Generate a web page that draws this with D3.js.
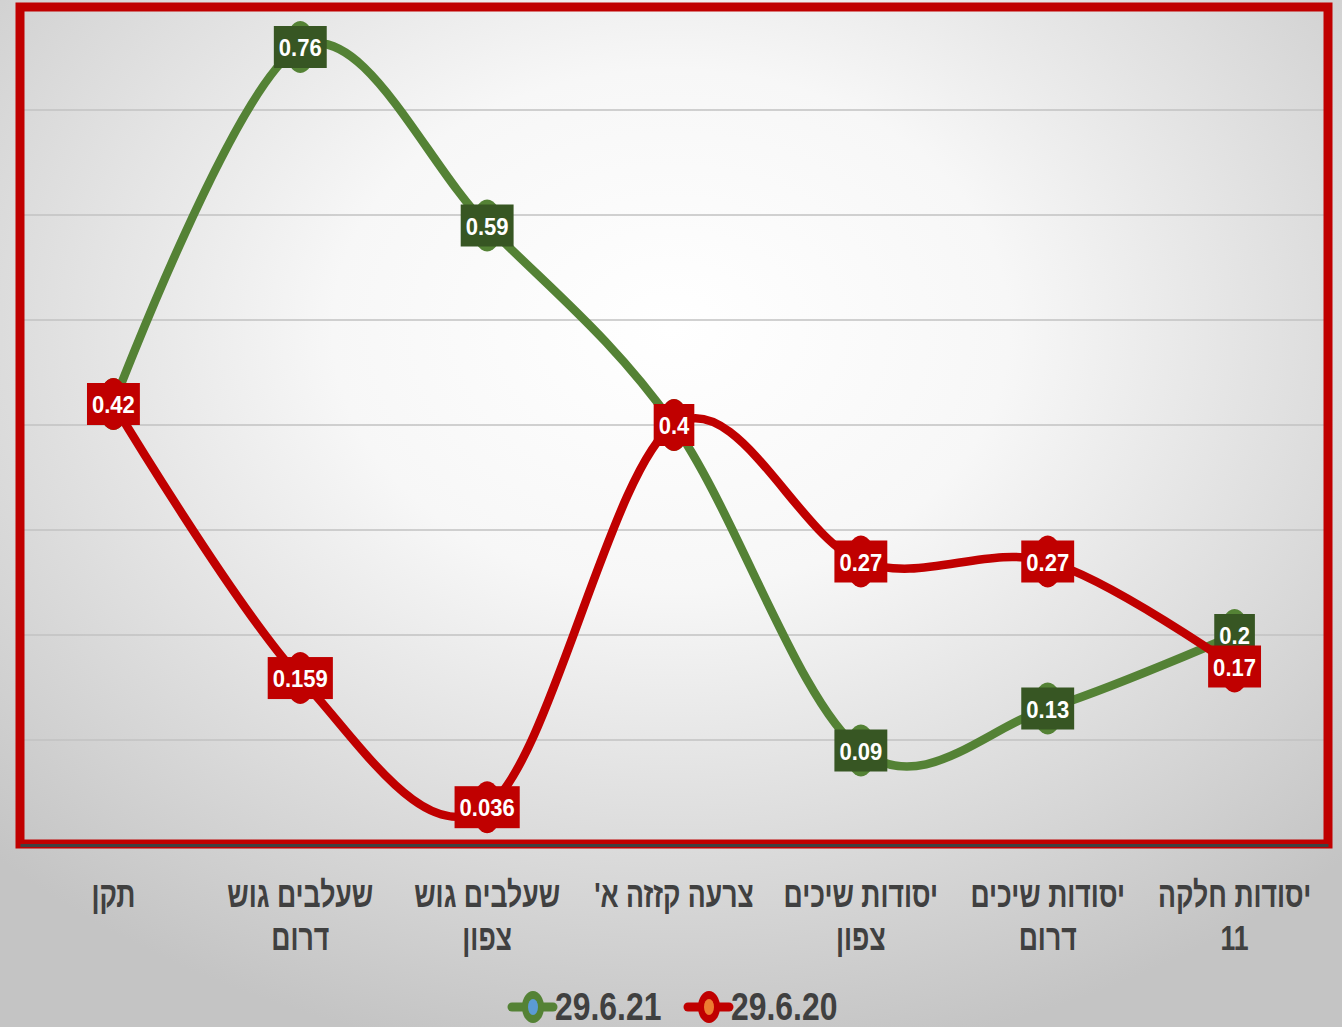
<!DOCTYPE html>
<html>
<head>
<meta charset="utf-8">
<script src="https://cdn.jsdelivr.net/npm/d3@7"></script>
<style>
  html, body { margin: 0; padding: 0; }
  body { width: 1342px; height: 1027px; overflow: hidden; }
  svg { display: block; }
</style>
</head>
<body>
<svg id="chart" width="1342" height="1027"></svg>
<script>
// ---- data ----
const categories = [
  ["תקן"],
  ["שעלבים גוש", "דרום"],
  ["שעלבים גוש", "צפון"],
  ["צרעה קזזה א'"],
  ["יסודות שיכים", "צפון"],
  ["יסודות שיכים", "דרום"],
  ["יסודות חלקה", "11"]
];
const seriesNames = ["29.6.21", "29.6.20"];
const values2021 = [0.42, 0.76, 0.59, 0.4, 0.09, 0.13, 0.2];
const values2020 = [0.42, 0.159, 0.036, 0.4, 0.27, 0.27, 0.17];
const labels2021 = ["", "0.76", "0.59", "", "0.09", "0.13", "0.2"];
const labels2020 = ["0.42", "0.159", "0.036", "0.4", "0.27", "0.27", "0.17"];
const yTicks = [0, 0.1, 0.2, 0.3, 0.4, 0.5, 0.6, 0.7, 0.8];

// ---- styles ----
const lineColors = ["#548235", "#c00000"];
const boxColors = ["#375623", "#c00000"];
const legendDots = ["#5b9bd5", "#ed7d31"];
const FONT = "'Liberation Sans', Arial, 'DejaVu Sans', sans-serif";

const svg = d3.select("#chart");
const W = 1342, H = 1027;
const plot = { left: 20, right: 1328, top: 5, bottom: 845 };

// background
const defs = svg.append("defs");
const grad = defs.append("radialGradient").attr("id", "bg")
  .attr("cx", "50%").attr("cy", "32%").attr("r", "72%");
grad.append("stop").attr("offset", "0%").attr("stop-color", "#ffffff");
grad.append("stop").attr("offset", "35%").attr("stop-color", "#f7f7f7");
grad.append("stop").attr("offset", "100%").attr("stop-color", "#c4c4c4");
svg.append("rect").attr("width", W).attr("height", H).attr("fill", "url(#bg)");

const x = d3.scalePoint().domain(d3.range(categories.length))
  .range([plot.left, plot.right]).padding(0.5);
const y = d3.scaleLinear().domain([0, 0.8]).range([plot.bottom, plot.top]);

// gridlines
svg.append("g").selectAll("line").data(yTicks.filter(t => t > 0 && t < 0.8)).join("line")
  .attr("x1", plot.left).attr("x2", plot.right)
  .attr("y1", d => y(d)).attr("y2", d => y(d))
  .attr("stroke", "#c2c2c2").attr("stroke-width", 1.5);

// plot border
svg.append("rect")
  .attr("x", plot.left).attr("y", plot.top + 2)
  .attr("width", plot.right - plot.left).attr("height", plot.bottom - plot.top - 3)
  .attr("fill", "none").attr("stroke", "#c00000").attr("stroke-width", 9);

// x axis line
const xAxis = d3.axisBottom(x).tickSize(0).tickFormat("");
const axG = svg.append("g").attr("transform", `translate(0,${plot.bottom})`).call(xAxis);
axG.select(".domain").attr("stroke", "#404040").attr("stroke-width", 3);

// category labels
const catG = svg.append("g");
categories.forEach((lines, i) => {
  lines.forEach((ln, j) => {
    catG.append("text")
      .attr("transform", `translate(${x(i)},${907 + j * 43}) scale(0.74,1)`)
      .attr("text-anchor", "middle")
      .attr("direction", "rtl")
      .attr("font-family", FONT).attr("font-weight", "bold")
      .attr("font-size", 36).attr("fill", "#404040")
      .text(ln);
  });
});

// lines
const lineGen = d3.line().x((d, i) => x(i)).y(d => y(d)).curve(d3.curveCardinal.tension(0));
const allSeries = [values2021, values2020];
const allLabels = [labels2021, labels2020];
allSeries.forEach((vals, s) => {
  svg.append("path").datum(vals).attr("d", lineGen)
    .attr("fill", "none").attr("stroke", lineColors[s]).attr("stroke-width", 8.5)
    .attr("stroke-linejoin", "round").attr("stroke-linecap", "round");
});

// markers
allSeries.forEach((vals, s) => {
  svg.append("g").selectAll("ellipse").data(vals).join("ellipse")
    .attr("cx", (d, i) => x(i)).attr("cy", d => y(d))
    .attr("rx", 15).attr("ry", 26)
    .attr("fill", lineColors[s]);
});

// data labels
allSeries.forEach((vals, s) => {
  const g = svg.append("g");
  vals.forEach((v, i) => {
    const lab = allLabels[s][i];
    if (!lab) return;
    const cx = x(i), cy = y(v);
    const lg = g.append("g").attr("transform", `translate(${cx},${cy})`);
    const rect = lg.append("rect").attr("fill", boxColors[s]);
    const t = lg.append("text")
      .attr("transform", "scale(0.9,1)")
      .attr("text-anchor", "middle").attr("dy", "0.37em")
      .attr("font-family", FONT).attr("font-weight", "bold")
      .attr("font-size", 24.5).attr("fill", "#ffffff")
      .text(lab);
    const tw = t.node().getComputedTextLength() * 0.9;
    const bw = tw + 10, bh = 42;
    rect.attr("x", -bw / 2).attr("y", -bh / 2).attr("width", bw).attr("height", bh);
  });
});

// legend
const legG = svg.append("g");
const legendItems = [
  { name: seriesNames[0], x0: 512 },
  { name: seriesNames[1], x0: 688 }
];
legendItems.forEach((it, s) => {
  const ly = 1007;
  legG.append("line").attr("x1", it.x0).attr("x2", it.x0 + 41)
    .attr("y1", ly).attr("y2", ly)
    .attr("stroke", lineColors[s]).attr("stroke-width", 9).attr("stroke-linecap", "round");
  legG.append("ellipse").attr("cx", it.x0 + 21).attr("cy", ly).attr("rx", 11).attr("ry", 16)
    .attr("fill", lineColors[s]);
  legG.append("ellipse").attr("cx", it.x0 + 21).attr("cy", ly).attr("rx", 5).attr("ry", 8)
    .attr("fill", legendDots[s]);
  legG.append("text")
    .attr("transform", `translate(${it.x0 + 43},${ly + 13}) scale(0.84,1)`)
    .attr("font-family", FONT).attr("font-weight", "bold")
    .attr("font-size", 38).attr("fill", "#404040")
    .text(it.name);
});
</script>
</body>
</html>
